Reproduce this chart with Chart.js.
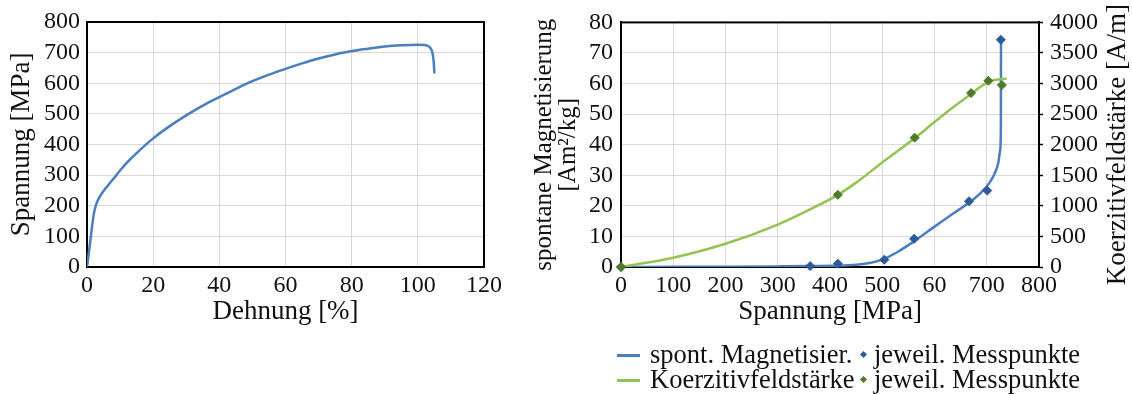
<!DOCTYPE html>
<html lang="de">
  <head>
    <meta charset="UTF-8" />
    <title>Spannung, Magnetisierung und Koerzitivfeldstärke</title>
    <style>
      body,
      html {
        margin: 0;
        background: #fff;
        width: 1132px;
        height: 394px;
        overflow: hidden;
      }
      .chart-box {
        position: absolute;
        top: 0;
        height: 340px;
      }
      #boxLeft {
        left: 0;
        width: 520px;
      }
      #boxRight {
        left: 530px;
        width: 602px;
      }
      .legend {
        font-family: "Liberation Serif", "Times New Roman", serif;
        font-size: 26.5px;
        color: #111;
      }
      .legend span {
        position: absolute;
        white-space: nowrap;
        line-height: 26px;
      }
      .legend .sample {
        width: 23px;
        height: 2.5px;
      }
      .legend .dia {
        width: 5px;
        height: 5px;
        transform: rotate(45deg);
      }
    </style>
  </head>
  <body>
    <div class="chart-box" id="boxLeft"><canvas id="chartLeft"></canvas></div>
    <div class="chart-box" id="boxRight"><canvas id="chartRight"></canvas></div>

    <div class="legend">
      <span class="sample" style="left: 617px; top: 354px; background: #4a7ebf"></span>
      <span style="left: 650px; top: 341px">spont. Magnetisier.</span>
      <span class="dia" style="left: 861px; top: 352px; background: #2d5b9a"></span>
      <span style="left: 874px; top: 341px">jeweil. Messpunkte</span>

      <span class="sample" style="left: 617px; top: 379px; background: #92c353"></span>
      <span style="left: 650px; top: 366px">Koerzitivfeldstärke</span>
      <span class="dia" style="left: 861px; top: 377px; background: #4f7a2b"></span>
      <span style="left: 874px; top: 366px">jeweil. Messpunkte</span>
    </div>

    <script src="https://cdn.jsdelivr.net/npm/chart.js"></script>

    <script>
      // Zugversuch: Dehnung [%] / Spannung [MPa]
      const dehnung = [0, 1, 2, 2.8, 4, 6, 8, 10, 12, 15, 20, 25, 30, 35, 40, 45, 50, 55, 60, 65, 70, 75, 80, 85, 90, 95, 100, 102, 103, 104, 104.5, 104.8, 105];
      const spannungZug = [0, 85, 170, 205, 232, 262, 288, 315, 340, 372, 420, 460, 495, 527, 555, 582, 607, 628, 647, 665, 681, 694, 705, 713, 720, 724, 726, 725, 722, 712, 695, 670, 632];

      // spontane Magnetisierung (Kurve)
      const spannungMag = [0, 100, 200, 300, 360, 420, 450, 475, 500, 530, 560, 600, 640, 666, 690, 705, 715, 722, 725.5, 727, 727.3];
      const magnetisierung = [0, 0.05, 0.1, 0.2, 0.3, 0.5, 0.7, 1.3, 2.4, 5.0, 8.3, 13.2, 18.0, 21.0, 24.5, 27.5, 30.5, 34, 38, 45, 74.3];

      // spontane Magnetisierung (Messpunkte)
      const spannungMagPkt = [0, 362, 415, 504, 561, 666, 701, 727];
      const magnetisierungPkt = [0, 0.3, 1.1, 2.4, 9.2, 21.5, 25.0, 74.3];

      // Koerzitivfeldstärke (Kurve)
      const spannungKoerz = [0, 100, 200, 300, 380, 415, 450, 500, 562, 600, 640, 670, 690, 705, 720, 738];
      const koerzitiv = [0, 152, 380, 694, 1020, 1180, 1380, 1710, 2105, 2370, 2640, 2830, 2960, 3030, 3065, 3078];

      // Koerzitivfeldstärke (Messpunkte)
      const spannungKoerzPkt = [0, 415, 562, 670, 703, 729];
      const koerzitivPkt = [0, 1180, 2115, 2845, 3045, 2975];

      // Achsenbeschriftung rechts (wie im Original)
      const xTickLabels = ["0", "100", "200", "300", "400", "500", "60", "700", "800"];

      const blau = "#4a7ebf";
      const blauPkt = "#2d5b9a";
      const gruen = "#92c353";
      const gruenPkt = "#4f7a2b";
      const gitter = "#d9d9d9";
      const serif = "'Liberation Serif', 'Times New Roman', serif";

      Chart.defaults.font.family = serif;
      Chart.defaults.color = "#111";
      Chart.defaults.animation = false;

      const zip = (xs, ys) => xs.map((x, i) => ({ x: x, y: ys[i] }));

      // Rahmen um die Plotfläche
      const rahmen = {
        id: "rahmen",
        beforeDatasetsDraw(chart) {
          const a = chart.chartArea;
          const c = chart.ctx;
          c.save();
          c.strokeStyle = "#000";
          c.lineWidth = 2;
          c.strokeRect(a.left, a.top, a.right - a.left, a.bottom - a.top);
          c.restore();
        },
      };

      // rechter Achsentitel, von unten nach oben gelesen
      const titelRechts = {
        id: "titelRechts",
        afterDraw(chart) {
          const a = chart.chartArea;
          const c = chart.ctx;
          c.save();
          c.translate(chart.width - 14, (a.top + a.bottom) / 2);
          c.rotate(-Math.PI / 2);
          c.font = "27px " + serif;
          c.fillStyle = "#111";
          c.textAlign = "center";
          c.textBaseline = "middle";
          c.fillText("Koerzitivfeldstärke [A/m]", 0, 0);
          c.restore();
        },
      };

      const tickFont = { size: 24 };
      const titleFont = { size: 27 };

      // linkes Diagramm
      new Chart(document.getElementById("chartLeft"), {
        type: "line",
        data: {
          datasets: [
            {
              data: zip(dehnung, spannungZug),
              borderColor: blau,
              borderWidth: 2.5,
              pointRadius: 0,
              cubicInterpolationMode: "monotone",
            },
          ],
        },
        options: {
          responsive: true,
          maintainAspectRatio: false,
          layout: { padding: { left: 0, top: 22, right: 36, bottom: 0 } },
          plugins: { legend: { display: false }, tooltip: { enabled: false } },
          scales: {
            x: {
              type: "linear",
              min: 0,
              max: 120,
              ticks: { stepSize: 20, font: tickFont, padding: 4, autoSkip: false, maxRotation: 0 },
              grid: { color: gitter, drawTicks: false },
              border: { color: "#000", width: 2 },
              title: { display: true, text: "Dehnung [%]", font: titleFont, padding: { top: 0, bottom: 12 } },
              afterFit(s) {
                s.height = 73;
              },
            },
            y: {
              min: 0,
              max: 800,
              ticks: { stepSize: 100, font: tickFont, padding: 7, autoSkip: false },
              grid: { color: gitter, drawTicks: false },
              border: { color: "#000", width: 2 },
              title: { display: true, text: "Spannung [MPa]", font: titleFont, padding: { top: 6, bottom: 0 } },
              afterFit(s) {
                s.width = 87;
              },
            },
          },
        },
        plugins: [rahmen],
      });

      // rechtes Diagramm
      new Chart(document.getElementById("chartRight"), {
        type: "line",
        data: {
          datasets: [
            {
              label: "jeweil. Messpunkte",
              data: zip(spannungKoerzPkt, koerzitivPkt),
              yAxisID: "y1",
              showLine: false,
              pointStyle: "rectRot",
              pointRadius: 4.5,
              backgroundColor: gruenPkt,
              borderColor: gruenPkt,
              clip: false,
              order: 0,
            },
            {
              label: "jeweil. Messpunkte",
              data: zip(spannungMagPkt, magnetisierungPkt),
              yAxisID: "y",
              showLine: false,
              pointStyle: "rectRot",
              pointRadius: 4.5,
              backgroundColor: blauPkt,
              borderColor: blauPkt,
              clip: false,
              order: 1,
            },
            {
              label: "Koerzitivfeldstärke",
              data: zip(spannungKoerz, koerzitiv),
              yAxisID: "y1",
              borderColor: gruen,
              borderWidth: 2.5,
              pointRadius: 0,
              cubicInterpolationMode: "monotone",
              order: 2,
            },
            {
              label: "spont. Magnetisier.",
              data: zip(spannungMag, magnetisierung),
              yAxisID: "y",
              borderColor: blau,
              borderWidth: 2.5,
              pointRadius: 0,
              cubicInterpolationMode: "monotone",
              order: 3,
            },
          ],
        },
        options: {
          responsive: true,
          maintainAspectRatio: false,
          layout: { padding: { left: 0, top: 21, right: 0, bottom: 0 } },
          plugins: { legend: { display: false }, tooltip: { enabled: false } },
          scales: {
            x: {
              type: "linear",
              min: 0,
              max: 800,
              ticks: {
                stepSize: 100,
                font: tickFont,
                padding: 4,
                autoSkip: false,
                maxRotation: 0,
                callback: (v, i) => xTickLabels[i],
              },
              grid: { color: gitter, drawTicks: false },
              border: { color: "#000", width: 2 },
              title: { display: true, text: "Spannung [MPa]", font: titleFont, padding: { top: 0, bottom: 12 } },
              afterFit(s) {
                s.height = 73;
              },
            },
            y: {
              position: "left",
              min: 0,
              max: 80,
              ticks: { stepSize: 10, font: tickFont, padding: 8, autoSkip: false },
              grid: { color: gitter, drawTicks: false },
              border: { color: "#000", width: 2 },
              title: {
                display: true,
                text: ["spontane Magnetisierung", "[Am²/kg]"],
                font: { size: 25, lineHeight: "24px" },
                padding: { top: 2, bottom: 0 },
              },
              afterFit(s) {
                s.width = 91;
              },
            },
            y1: {
              position: "right",
              min: 0,
              max: 4000,
              ticks: { stepSize: 500, font: tickFont, padding: 7, autoSkip: false, callback: (v) => String(v) },
              grid: { drawOnChartArea: false, tickLength: 4, tickColor: "#000", tickWidth: 1.5 },
              border: { color: "#000", width: 2 },
              afterFit(s) {
                s.width = 93;
              },
            },
          },
        },
        plugins: [rahmen, titelRechts],
      });
    </script>
  </body>
</html>
